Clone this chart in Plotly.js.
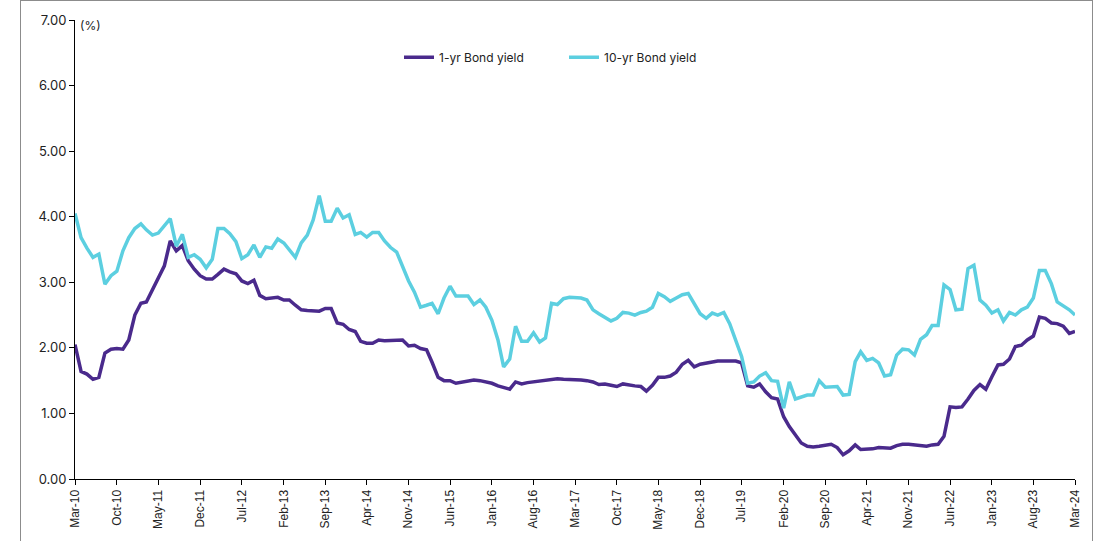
<!DOCTYPE html>
<html>
<head>
<meta charset="utf-8">
<script src="https://cdn.plot.ly/plotly-3.0.1.min.js"></script>
<style>
  html, body { margin: 0; padding: 0; background: #ffffff; }
  #chart { width: 1100px; height: 541px; }
  #frame { position: absolute; left: 20px; top: 0px; width: 1073px; height: 600px;
           border: 1px solid #8c8c8c; pointer-events: none; box-sizing: border-box; }
</style>
</head>
<body>
<div id="chart"></div>
<div id="frame"></div>
<script>
// Monthly series starting Mar-2010, ending Mar-2024
const startYear = 2010;
const startMonth = 3; // March

const seriesNames = ['1-yr Bond yield', '10-yr Bond yield'];

const oneYearYield = [
  2.05, 1.64, 1.60, 1.52, 1.55, 1.92, 1.98, 1.99, 1.98, 2.12,   // 0-9
  2.50, 2.68, 2.70, 2.88, 3.05, 3.25, 3.63, 3.48, 3.56, 3.33,   // 10-19
  3.20, 3.10, 3.05, 3.05, 3.12, 3.20, 3.16, 3.13, 3.02, 2.98,   // 20-29
  3.03, 2.80, 2.75, 2.76, 2.77, 2.73, 2.73, 2.65, 2.58, 2.57,   // 30-39
  2.56, 2.56, 2.60, 2.60, 2.38, 2.36, 2.28, 2.25, 2.10, 2.07,   // 40-49
  2.07, 2.12, 2.11, 2.11, 2.11, 2.12, 2.03, 2.04, 1.99, 1.97,   // 50-59
  1.78, 1.55, 1.50, 1.50, 1.46, 1.48, 1.50, 1.51, 1.50, 1.48,   // 60-69
  1.46, 1.42, 1.39, 1.37, 1.48, 1.45, 1.47, 1.48, 1.50, 1.50,   // 70-79
  1.51, 1.53, 1.52, 1.52, 1.52, 1.51, 1.50, 1.48, 1.44, 1.45,   // 80-89
  1.43, 1.41, 1.45, 1.43, 1.42, 1.41, 1.34, 1.43, 1.55, 1.55,   // 90-99
  1.57, 1.63, 1.75, 1.81, 1.71, 1.75, 1.77, 1.79, 1.80, 1.80,   // 100-109
  1.80, 1.80, 1.77, 1.42, 1.40, 1.45, 1.33, 1.24, 1.22, 0.95,   // 110-119
  0.80, 0.67, 0.55, 0.50, 0.49, 0.50, 0.51, 0.53, 0.48, 0.37,   // 120-129
  0.43, 0.52, 0.45, 0.45, 0.46, 0.48, 0.48, 0.47, 0.51, 0.53,   // 130-139
  0.53, 0.52, 0.51, 0.50, 0.52, 0.53, 0.65, 1.10, 1.09, 1.10,   // 140-149
  1.22, 1.35, 1.44, 1.37, 1.56, 1.74, 1.75, 1.83, 2.02, 2.04,   // 150-159
  2.12, 2.18, 2.47, 2.45, 2.38, 2.37, 2.33, 2.22, 2.25          // 160-168
];

const tenYearYield = [
  4.05, 3.68, 3.52, 3.38, 3.43, 2.97, 3.10, 3.17, 3.48, 3.68,   // 0-9
  3.82, 3.89, 3.80, 3.72, 3.75, 3.87, 3.97, 3.55, 3.73, 3.38,   // 10-19
  3.42, 3.35, 3.22, 3.35, 3.82, 3.82, 3.74, 3.62, 3.36, 3.42,   // 20-29
  3.57, 3.38, 3.54, 3.52, 3.66, 3.60, 3.50, 3.38, 3.60, 3.72,   // 30-39
  3.95, 4.32, 3.93, 3.93, 4.13, 3.98, 4.03, 3.73, 3.76, 3.69,   // 40-49
  3.76, 3.76, 3.63, 3.53, 3.46, 3.25, 3.02, 2.85, 2.62, 2.65,   // 50-59
  2.68, 2.52, 2.76, 2.94, 2.79, 2.79, 2.79, 2.66, 2.73, 2.62,   // 60-69
  2.42, 2.12, 1.71, 1.83, 2.33, 2.10, 2.10, 2.23, 2.09, 2.15,   // 70-79
  2.68, 2.66, 2.75, 2.77, 2.76, 2.76, 2.73, 2.58, 2.52, 2.46,   // 80-89
  2.41, 2.45, 2.54, 2.53, 2.50, 2.54, 2.56, 2.62, 2.83, 2.78,   // 90-99
  2.71, 2.76, 2.81, 2.83, 2.66, 2.52, 2.45, 2.53, 2.50, 2.54,   // 100-109
  2.37, 2.12, 1.87, 1.46, 1.48, 1.57, 1.62, 1.50, 1.49, 1.08,   // 110-119
  1.48, 1.22, 1.25, 1.28, 1.28, 1.50, 1.40, 1.41, 1.41, 1.28,   // 120-129
  1.29, 1.79, 1.94, 1.81, 1.84, 1.77, 1.57, 1.59, 1.89, 1.98,   // 130-139
  1.97, 1.89, 2.13, 2.20, 2.34, 2.34, 2.96, 2.89, 2.58, 2.59,   // 140-149
  3.21, 3.26, 2.73, 2.65, 2.53, 2.58, 2.41, 2.54, 2.50, 2.58,   // 150-159
  2.62, 2.76, 3.18, 3.18, 2.98, 2.70, 2.64, 2.58, 2.50          // 160-168
];

const tickLabels = ['Mar-10','Oct-10','May-11','Dec-11','Jul-12','Feb-13','Sep-13','Apr-14',
  'Nov-14','Jun-15','Jan-16','Aug-16','Mar-17','Oct-17','May-18','Dec-18','Jul-19','Feb-20',
  'Sep-20','Apr-21','Nov-21','Jun-22','Jan-23','Aug-23','Mar-24'];
const tickStepMonths = 7;

const yTicks = [0, 1, 2, 3, 4, 5, 6, 7];

function monthDate(i) {
  const total = (startMonth - 1) + i;
  const y = startYear + Math.floor(total / 12);
  const m = (total % 12) + 1;
  return y + '-' + String(m).padStart(2, '0') + '-01';
}
const xDates = oneYearYield.map((_, i) => monthDate(i));
const tickVals = tickLabels.map((_, k) => monthDate(k * tickStepMonths));

const traces = [
  { x: xDates, y: oneYearYield, name: seriesNames[0], type: 'scatter', mode: 'lines',
    line: { color: '#4a2a8c', width: 3.5 } },
  { x: xDates, y: tenYearYield, name: seriesNames[1], type: 'scatter', mode: 'lines',
    line: { color: '#5ccfe0', width: 3.5 } }
];

const layout = {
  width: 1100, height: 541,
  margin: { l: 75, r: 25, t: 20, b: 62 },
  paper_bgcolor: '#ffffff', plot_bgcolor: '#ffffff',
  showlegend: true,
  legend: {
    orientation: 'h', x: 0.324, xanchor: 'left', y: 0.919, yanchor: 'middle',
    font: { family: 'Inter, "Noto Sans", sans-serif', size: 12, color: '#222' },
    itemwidth: 30, entrywidth: 120, entrywidthmode: 'pixels', bgcolor: 'rgba(0,0,0,0)'
  },
  xaxis: {
    type: 'date', range: [xDates[0], xDates[xDates.length - 1]],
    tickvals: tickVals, ticktext: tickLabels, tickangle: -90,
    showgrid: false, zeroline: false, showline: true, linecolor: '#000', linewidth: 1,
    ticks: 'outside', ticklen: 5, tickcolor: '#000',
    tickfont: { family: '"Liberation Sans", Arial, sans-serif', size: 12, color: '#222' }
  },
  yaxis: {
    range: [0, 7], tickvals: yTicks, tickformat: '.2f',
    showgrid: false, zeroline: false, showline: true, linecolor: '#000', linewidth: 1,
    ticks: 'outside', ticklen: 5, tickcolor: '#000',
    tickfont: { family: 'Inter, "Noto Sans", sans-serif', size: 13, color: '#222' }
  },
  annotations: [
    { text: '(%)', xref: 'paper', yref: 'paper', x: 0.003, y: 0.989, xanchor: 'left', yanchor: 'middle',
      showarrow: false, font: { family: 'Inter, "Noto Sans", sans-serif', size: 12, color: '#222' } }
  ],
  hovermode: false
};

Plotly.newPlot('chart', traces, layout, { displayModeBar: false, staticPlot: true });
</script>
</body>
</html>
